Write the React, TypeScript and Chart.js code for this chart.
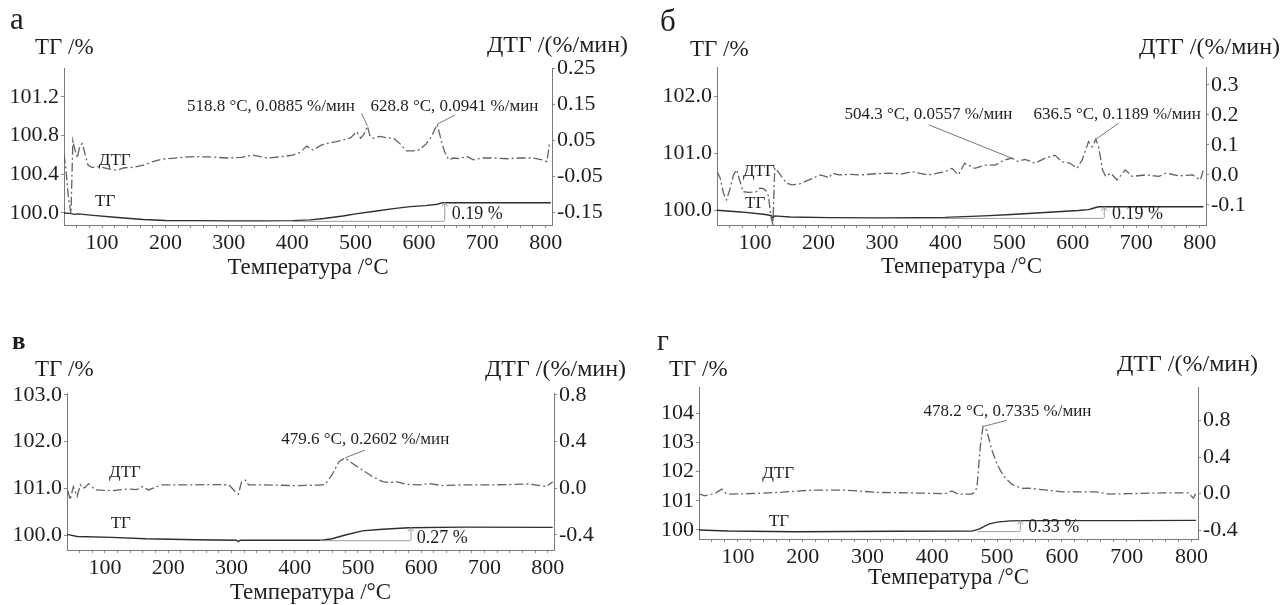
import React, { useEffect, useRef } from "react";
import { Chart, registerables } from "chart.js";

Chart.register(...registerables);

const SERIF = '"Liberation Serif", "Times New Roman", serif';
const INK = "#1e1e1e";

// ---------- shared axis data ----------
const xMajorTicks = [100, 200, 300, 400, 500, 600, 700, 800];
const xMinorTicks = [60, 80, 100, 120, 140, 160, 180, 200, 220, 240, 260, 280, 300, 320, 340, 360, 380, 400, 420, 440, 460, 480, 500, 520, 540, 560, 580, 600, 620, 640, 660, 680, 700, 720, 740, 760, 780, 800];

// ---------- panel а ----------
const aTgTicks = [100.0, 100.4, 100.8, 101.2];
const aTgTickLabels = ["100.0", "100.4", "100.8", "101.2"];
const aDtgTicks = [-0.15, -0.05, 0.05, 0.15, 0.25];
const aDtgTickLabels = ["-0.15", "-0.05", "0.05", "0.15", "0.25"];
const aDtg: [number, number][] = [
  [40, 0.01], [43, -0.03], [47, -0.11], [51, -0.155], [54, 0.048], [57, 0.025], [61, 0.0], [65, 0.035], [69, 0.04],
  [73, 0.012], [78, -0.02], [84, -0.026], [92, -0.024], [100, -0.026], [110, -0.03], [123, -0.034], [135, -0.027],
  [150, -0.026], [165, -0.02], [180, -0.01], [195, -0.003], [215, 0.0], [244, 0.004], [270, 0.003], [298, 0.0],
  [320, 0.002], [338, 0.008], [360, 0.0], [380, 0.003], [401, 0.008], [412, 0.015], [423, 0.033], [433, 0.022],
  [445, 0.035], [456, 0.041], [468, 0.045], [480, 0.05], [492, 0.056], [502, 0.073], [508, 0.055], [513, 0.065],
  [518.8, 0.0885], [523, 0.06], [528, 0.055], [538, 0.06], [550, 0.056], [560, 0.055], [570, 0.04], [580, 0.02],
  [590, 0.02], [601, 0.023], [612, 0.04], [620, 0.06], [628.8, 0.0941], [635, 0.05], [640, 0.02], [647, -0.005],
  [655, 0.0], [665, -0.002], [675, 0.005], [686, -0.005], [700, 0.0], [720, 0.0], [740, -0.002], [760, 0.0],
  [780, 0.0], [795, -0.005], [802, -0.01], [806, 0.04],
];
const aTg: [number, number][] = [
  [40, 100.0], [50, 99.995], [56, 99.985], [62, 99.99], [86, 99.975], [120, 99.955], [165, 99.932], [200, 99.922],
  [250, 99.92], [300, 99.918], [350, 99.918], [400, 99.92], [428, 99.928], [450, 99.942], [480, 99.968], [500, 99.99],
  [533, 100.02], [560, 100.045], [586, 100.065], [610, 100.075], [629, 100.09], [637, 100.107], [700, 100.105],
  [760, 100.105], [808, 100.105],
];

// ---------- panel б ----------
const bTgTicks = [100.0, 101.0, 102.0];
const bTgTickLabels = ["100.0", "101.0", "102.0"];
const bDtgTicks = [-0.1, 0.0, 0.1, 0.2, 0.3];
const bDtgTickLabels = ["-0.1", "0.0", "0.1", "0.2", "0.3"];
const bDtg: [number, number][] = [
  [40, 0.011], [45, -0.01], [50, -0.06], [55, -0.083], [60, -0.05], [66, 0.0], [71, 0.017], [76, -0.02], [81, -0.056],
  [90, -0.058], [102, -0.056], [107, -0.044], [112, -0.045], [117, -0.052], [121, -0.07], [125, -0.14], [128, -0.165],
  [131, 0.023], [136, 0.011], [143, -0.01], [150, -0.028], [158, -0.033], [170, -0.03], [181, -0.02], [191, -0.011],
  [202, 0.0], [212, -0.006], [216, -0.01], [222, 0.006], [232, 0.0], [250, 0.002], [268, 0.0], [290, 0.004],
  [310, 0.006], [330, 0.003], [347, 0.011], [360, 0.005], [373, 0.0], [387, 0.006], [399, 0.011], [410, 0.022],
  [420, 0.0], [430, 0.039], [446, 0.022], [462, 0.033], [478, 0.033], [493, 0.05], [504.3, 0.0557], [514, 0.045],
  [525, 0.052], [541, 0.039], [556, 0.055], [572, 0.066], [583, 0.044], [596, 0.039], [607, 0.022], [615, 0.05],
  [625, 0.111], [631, 0.094], [636.5, 0.1189], [641, 0.094], [647, 0.017], [652, -0.005], [660, 0.006], [670, -0.017],
  [683, 0.017], [694, -0.005], [715, 0.0], [736, -0.005], [747, 0.006], [768, -0.003], [789, 0.0], [801, -0.017],
  [806, 0.017],
];
const bTg: [number, number][] = [
  [40, 100.0], [77, 99.97], [113, 99.93], [121, 99.915], [126, 99.9], [128, 99.86], [130, 99.9], [155, 99.88],
  [216, 99.87], [295, 99.865], [399, 99.875], [460, 99.9], [504, 99.925], [556, 99.96], [609, 99.995], [625, 100.01],
  [631, 100.03], [641, 100.06], [700, 100.06], [806, 100.06],
];

// ---------- panel в ----------
const vTgTicks = [100.0, 101.0, 102.0, 103.0];
const vTgTickLabels = ["100.0", "101.0", "102.0", "103.0"];
const vDtgTicks = [-0.4, 0.0, 0.4, 0.8];
const vDtgTickLabels = ["-0.4", "0.0", "0.4", "0.8"];
const vDtg: [number, number][] = [
  [40, -0.02], [42, -0.03], [45, -0.1], [50, 0.014], [56, -0.07], [61, 0.03], [65, 0.0], [69, 0.01], [74, 0.04],
  [80, 0.01], [85, -0.014], [111, -0.02], [138, -0.006], [150, -0.012], [159, 0.014], [169, -0.014], [180, 0.01],
  [190, 0.03], [243, 0.03], [270, 0.032], [296, 0.03], [301, 0.0], [306, -0.03], [311, -0.05], [316, 0.057],
  [322, 0.07], [327, 0.03], [348, 0.03], [401, 0.023], [440, 0.028], [448, 0.034], [459, 0.114], [470, 0.228],
  [479.6, 0.2602], [491, 0.214], [507, 0.157], [523, 0.1], [539, 0.057], [550, 0.05], [560, 0.057], [576, 0.034],
  [597, 0.03], [613, 0.04], [634, 0.023], [666, 0.03], [719, 0.03], [771, 0.037], [798, 0.014], [808, 0.057],
];
const vTg: [number, number][] = [
  [40, 100.015], [56, 99.97], [111, 99.95], [164, 99.92], [243, 99.9], [308, 99.89], [311, 99.86], [314, 99.89],
  [443, 99.89], [459, 99.92], [480, 100.0], [507, 100.09], [533, 100.12], [580, 100.155], [666, 100.17], [808, 100.165],
];

// ---------- panel г ----------
const gTgTicks = [100, 101, 102, 103, 104];
const gTgTickLabels = ["100", "101", "102", "103", "104"];
const gDtgTicks = [-0.4, 0.0, 0.4, 0.8];
const gDtgTickLabels = ["-0.4", "0.0", "0.4", "0.8"];
const gDtg: [number, number][] = [
  [40, -0.005], [45, -0.015], [49, -0.024], [55, -0.01], [60, -0.005], [67, 0.013], [71, 0.03], [75, 0.05], [79, 0.02],
  [83, -0.005], [111, -0.002], [162, 0.013], [214, 0.038], [265, 0.038], [317, 0.013], [368, 0.007], [420, 0.0],
  [430, 0.03], [440, -0.005], [461, -0.005], [466, 0.02], [469, 0.07], [474, 0.51], [478.2, 0.7335], [484, 0.69],
  [492, 0.475], [500, 0.32], [510, 0.19], [523, 0.1], [538, 0.058], [548, 0.06], [574, 0.04], [600, 0.02], [652, 0.02],
  [672, -0.005], [703, 0.0], [754, 0.007], [795, 0.007], [803, -0.05], [807, 0.01],
];
const gTg: [number, number][] = [
  [40, 100.0], [85, 99.965], [188, 99.94], [343, 99.955], [461, 99.96], [472, 100.03], [487, 100.2], [500, 100.27],
  [520, 100.31], [548, 100.32], [700, 100.32], [807, 100.33],
];

// ---------- panel layout / annotation config ----------
type Panel = {
  box: { left: number; top: number; width: number; height: number };
  area: { left: number; top: number; right: number; bottom: number };
  tgRange: [number, number];
  dtgRange: [number, number];
  tgTicks: number[]; tgLabels: string[];
  dtgTicks: number[]; dtgLabels: string[];
  tg: [number, number][]; dtg: [number, number][];
  decor: any;
};

const panels: Panel[] = [
  {
    box: { left: 0, top: 0, width: 640, height: 300 },
    area: { left: 64, top: 68, right: 552, bottom: 225 },
    tgRange: [99.875, 101.5], dtgRange: [-0.186, 0.25],
    tgTicks: aTgTicks, tgLabels: aTgTickLabels, dtgTicks: aDtgTicks, dtgLabels: aDtgTickLabels,
    tg: aTg, dtg: aDtg,
    decor: {
      letter: { text: "а", x: 10, y: 21, size: 31, bold: false },
      leftTitle: { x: 35, y: 48 }, rightTitle: { x: 628, y: 46 }, xTitleY: 268,
      curve: [{ text: "ДТГ", x: 120, y: -0.006, axis: "y2" }, { text: "ТГ", x: 105, y: 100.114, axis: "y" }],
      peaks: [
        { text: "518.8 °C, 0.0885 %/мин", x: 366.5, y: 0.1417, from: [509.6, 0.124], to: [518.8, 0.0885] },
        { text: "628.8 °C, 0.0941 %/мин", x: 656, y: 0.1417, from: [656.7, 0.119], to: [628.8, 0.0941] },
      ],
      bracket: { t0: 400, t1: 640, low: 99.918, high: 100.107, text: "0.19 %", tx: 652, ty: 99.99 },
    },
  },
  {
    box: { left: 640, top: 0, width: 648, height: 300 },
    area: { left: 77, top: 67, right: 566, bottom: 225 },
    tgRange: [99.74, 102.52], dtgRange: [-0.167, 0.36],
    tgTicks: bTgTicks, tgLabels: bTgTickLabels, dtgTicks: bDtgTicks, dtgLabels: bDtgTickLabels,
    tg: bTg, dtg: bDtg,
    decor: {
      letter: { text: "б", x: 20, y: 23, size: 31, bold: false },
      leftTitle: { x: 50, y: 50 }, rightTitle: { x: 640, y: 48 }, xTitleY: 267,
      curve: [{ text: "ДТГ", x: 106, y: 0.011, axis: "y2" }, { text: "ТГ", x: 100, y: 100.12, axis: "y" }],
      peaks: [
        { text: "504.3 °C, 0.0557 %/мин", x: 373, y: 0.2, from: [373.4, 0.167], to: [504.3, 0.0557] },
        { text: "636.5 °C, 0.1189 %/мин", x: 670, y: 0.2, from: [672.6, 0.173], to: [636.5, 0.1189] },
      ],
      bracket: { t0: 300, t1: 649, low: 99.865, high: 100.06, text: "0.19 %", tx: 662, ty: 99.93 },
    },
  },
  {
    box: { left: 0, top: 300, width: 640, height: 305 },
    area: { left: 67, top: 93, right: 554, bottom: 250 },
    tgRange: [99.68, 103.04], dtgRange: [-0.529, 0.817],
    tgTicks: vTgTicks, tgLabels: vTgTickLabels, dtgTicks: vDtgTicks, dtgLabels: vDtgTickLabels,
    tg: vTg, dtg: vDtg,
    decor: {
      letter: { text: "в", x: 12, y: 43, size: 25, bold: true },
      leftTitle: { x: 35, y: 70 }, rightTitle: { x: 626, y: 70 }, xTitleY: 293,
      curve: [{ text: "ДТГ", x: 131.7, y: 0.131, axis: "y2" }, { text: "ТГ", x: 125, y: 100.257, axis: "y" }],
      peaks: [
        { text: "479.6 °C, 0.2602 %/мин", x: 511.6, y: 0.414, from: [511, 0.328], to: [479.6, 0.2602] },
      ],
      bracket: { t0: 440, t1: 583, low: 99.89, high: 100.16, text: "0.27 %", tx: 593, ty: 99.94 },
    },
  },
  {
    box: { left: 640, top: 300, width: 648, height: 305 },
    area: { left: 59, top: 87, right: 558, bottom: 239 },
    tgRange: [99.69, 104.9], dtgRange: [-0.496, 1.165],
    tgTicks: gTgTicks, tgLabels: gTgTickLabels, dtgTicks: gDtgTicks, dtgLabels: gDtgTickLabels,
    tg: gTg, dtg: gDtg,
    decor: {
      letter: { text: "г", x: 17, y: 42, size: 29, bold: false },
      leftTitle: { x: 29, y: 70 }, rightTitle: { x: 618, y: 65 }, xTitleY: 278,
      curve: [{ text: "ДТГ", x: 162, y: 0.224, axis: "y2" }, { text: "ТГ", x: 163.5, y: 100.3, axis: "y" }],
      peaks: [
        { text: "478.2 °C, 0.7335 %/мин", x: 516, y: 0.892, from: [515, 0.8], to: [478.2, 0.7335] },
      ],
      bracket: { t0: 470, t1: 535, low: 99.96, high: 100.32, text: "0.33 %", tx: 548, ty: 100.09 },
    },
  },
];

const decorPlugin = {
  id: "decor",
  afterDatasetsDraw(chart: any, _args: any, opts: any) {
    const ctx: CanvasRenderingContext2D = chart.ctx;
    const { x, y, y2 } = chart.scales;
    const ca = chart.chartArea;
    ctx.save();
    ctx.fillStyle = INK;
    ctx.textBaseline = "middle";

    // panel letter
    ctx.font = `${opts.letter.bold ? "bold " : ""}${opts.letter.size}px ${SERIF}`;
    ctx.textAlign = "left";
    ctx.fillText(opts.letter.text, opts.letter.x, opts.letter.y);

    // axis titles
    ctx.font = `23px ${SERIF}`;
    ctx.textAlign = "left";
    ctx.fillText("ТГ /%", opts.leftTitle.x, opts.leftTitle.y);
    ctx.font = `24px ${SERIF}`;
    ctx.textAlign = "right";
    ctx.fillText("ДТГ /(%/мин)", opts.rightTitle.x, opts.rightTitle.y);
    ctx.font = `23px ${SERIF}`;
    ctx.textAlign = "center";
    ctx.fillText("Температура /°C", (ca.left + ca.right) / 2, opts.xTitleY);

    // curve labels
    ctx.font = `17px ${SERIF}`;
    for (const c of opts.curve) {
      const sc = c.axis === "y2" ? y2 : y;
      ctx.textAlign = "center";
      ctx.fillText(c.text, x.getPixelForValue(c.x), sc.getPixelForValue(c.y));
    }

    // peak labels + leaders
    for (const p of opts.peaks) {
      ctx.textAlign = "center";
      ctx.fillStyle = INK;
      ctx.fillText(p.text, x.getPixelForValue(p.x), y2.getPixelForValue(p.y));
      ctx.strokeStyle = "#777";
      ctx.lineWidth = 1;
      ctx.beginPath();
      ctx.moveTo(x.getPixelForValue(p.from[0]), y2.getPixelForValue(p.from[1]));
      ctx.lineTo(x.getPixelForValue(p.to[0]), y2.getPixelForValue(p.to[1]));
      ctx.stroke();
    }

    // step bracket
    const b = opts.bracket;
    const bx0 = x.getPixelForValue(b.t0);
    const bx1 = x.getPixelForValue(b.t1);
    const byl = y.getPixelForValue(b.low);
    const byh = y.getPixelForValue(b.high);
    ctx.strokeStyle = "#9a9a9a";
    ctx.lineWidth = 1;
    ctx.beginPath();
    ctx.moveTo(bx0, byl + 0.5);
    ctx.lineTo(bx1, byl + 0.5);
    ctx.moveTo(bx1 + 0.5, byl);
    ctx.lineTo(bx1 + 0.5, byh);
    ctx.moveTo(bx1 - 2.5, byh + 4);
    ctx.lineTo(bx1 + 0.5, byh);
    ctx.lineTo(bx1 + 3.5, byh + 4);
    ctx.stroke();
    ctx.fillStyle = INK;
    ctx.textAlign = "left";
    ctx.font = `18px ${SERIF}`;
    ctx.fillText(b.text, x.getPixelForValue(b.tx), y.getPixelForValue(b.ty));
    ctx.restore();
  },
};

function PanelChart({ p }: { p: Panel }) {
  const ref = useRef<HTMLCanvasElement | null>(null);
  useEffect(() => {
    if (!ref.current) return;
    const { box, area } = p;
    const tickFont = { family: SERIF, size: 22 };
    const axisBorder = { display: true, color: "#7a7a7a", width: 1 };
    const chart = new Chart(ref.current, {
      type: "line",
      data: {
        datasets: [
          {
            label: "ДТГ",
            data: p.dtg.map(([t, v]) => ({ x: t, y: v })),
            yAxisID: "y2",
            borderColor: "#626262",
            borderWidth: 1.3,
            borderDash: [9, 3, 2, 3],
            pointRadius: 0,
            tension: 0,
            fill: false,
          },
          {
            label: "ТГ",
            data: p.tg.map(([t, v]) => ({ x: t, y: v })),
            yAxisID: "y",
            borderColor: "#2e2e2e",
            borderWidth: 1.4,
            pointRadius: 0,
            tension: 0,
            fill: false,
          },
        ],
      },
      options: {
        animation: false,
        responsive: false,
        devicePixelRatio: 1,
        events: [],
        layout: { padding: { top: area.top, left: 0, right: 0, bottom: 0 } },
        plugins: {
          legend: { display: false },
          tooltip: { enabled: false },
          decor: p.decor,
        } as any,
        scales: {
          x: {
            type: "linear",
            min: 40,
            max: 810,
            afterBuildTicks: (s: any) => {
              s.ticks = xMinorTicks.map((v) => ({ value: v }));
            },
            afterFit: (s: any) => {
              s.height = box.height - area.bottom;
            },
            ticks: {
              autoSkip: false,
              maxRotation: 0,
              padding: 2,
              color: INK,
              font: tickFont,
              callback: (v: any) => (xMajorTicks.includes(Number(v)) ? String(v) : ""),
            },
            grid: { display: true, drawOnChartArea: false, drawTicks: true, tickLength: 3, color: "#8a8a8a" },
            border: axisBorder,
          },
          y: {
            type: "linear",
            position: "left",
            min: p.tgRange[0],
            max: p.tgRange[1],
            afterBuildTicks: (s: any) => {
              s.ticks = p.tgTicks.map((v) => ({ value: v }));
            },
            afterFit: (s: any) => {
              s.width = area.left;
            },
            ticks: {
              padding: 2,
              color: INK,
              font: tickFont,
              callback: (_v: any, i: number) => p.tgLabels[i],
            },
            grid: { display: true, drawOnChartArea: false, drawTicks: true, tickLength: 3, color: "#8a8a8a" },
            border: axisBorder,
          },
          y2: {
            type: "linear",
            position: "right",
            min: p.dtgRange[0],
            max: p.dtgRange[1],
            afterBuildTicks: (s: any) => {
              s.ticks = p.dtgTicks.map((v) => ({ value: v }));
            },
            afterFit: (s: any) => {
              s.width = box.width - area.right;
            },
            ticks: {
              padding: 2,
              color: INK,
              font: tickFont,
              callback: (_v: any, i: number) => p.dtgLabels[i],
            },
            grid: { display: true, drawOnChartArea: false, drawTicks: true, tickLength: 3, color: "#8a8a8a" },
            border: axisBorder,
          },
        },
      } as any,
      plugins: [decorPlugin],
    });
    return () => chart.destroy();
  }, [p]);
  return (
    <canvas
      ref={ref}
      width={p.box.width}
      height={p.box.height}
      style={{
        position: "absolute",
        left: p.box.left,
        top: p.box.top,
        width: p.box.width,
        height: p.box.height,
      }}
    />
  );
}

export default function App() {
  return (
    <div style={{ position: "absolute", left: 0, top: 0, width: 1288, height: 605, background: "#fff", overflow: "hidden" }}>
      {panels.map((p, i) => (
        <PanelChart key={i} p={p} />
      ))}
    </div>
  );
}
